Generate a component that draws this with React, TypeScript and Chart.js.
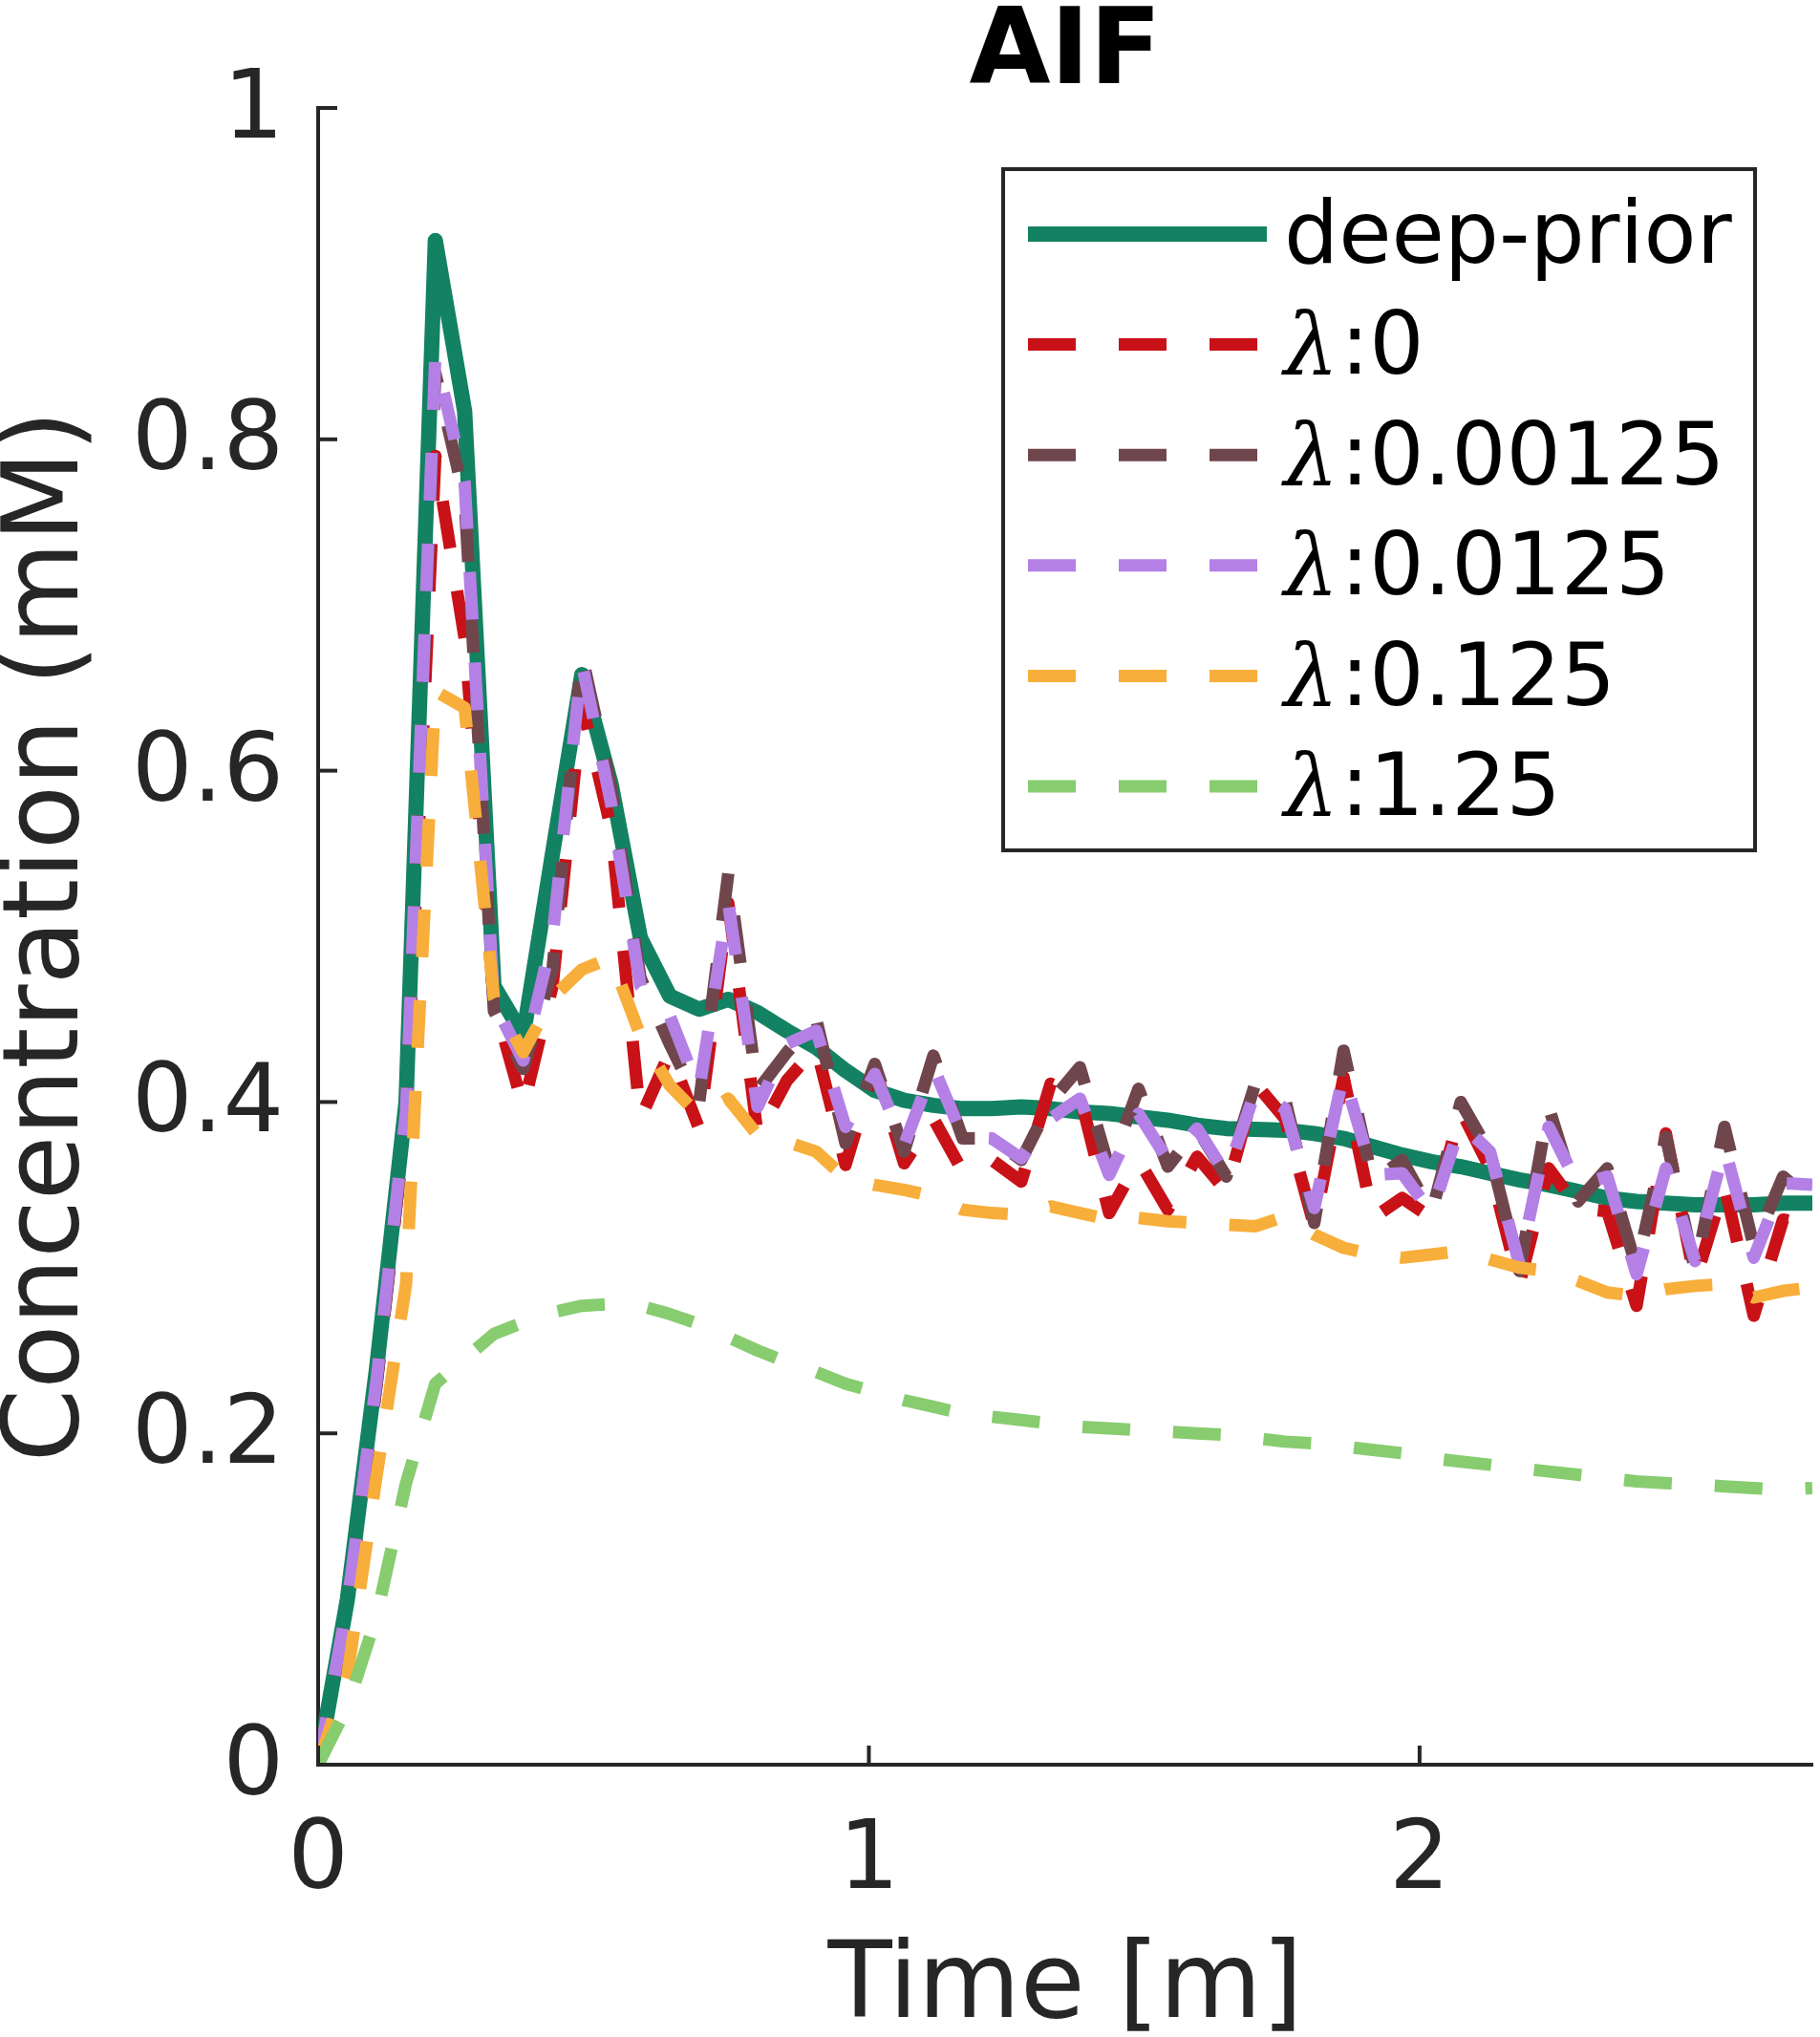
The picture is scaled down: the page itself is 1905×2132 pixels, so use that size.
import React, { useEffect, useRef } from 'react';
import { Chart, registerables } from 'chart.js';

Chart.register(...registerables);

// ---- data (time in minutes, concentration in mM) ----
const timeMin = [
  0, 0.0532, 0.1064, 0.1596, 0.2128, 0.266, 0.3192, 0.3724, 0.4256, 0.4788,
  0.532, 0.5852, 0.6384, 0.6916, 0.7448, 0.798, 0.8512, 0.9044, 0.9576, 1.0108,
  1.064, 1.1172, 1.1704, 1.2236, 1.2768, 1.33, 1.3832, 1.4364, 1.4896, 1.5428,
  1.596, 1.6492, 1.7024, 1.7556, 1.8088, 1.862, 1.9152, 1.9684, 2.0216, 2.0748,
  2.128, 2.1812, 2.2344, 2.2876, 2.3408, 2.394, 2.4472, 2.5004, 2.5536, 2.6068,
  2.66, 2.7132,
];

const deepPrior = [
  0, 0.10, 0.24, 0.40, 0.92, 0.817, 0.47, 0.44, 0.55, 0.658,
  0.592, 0.499, 0.464, 0.456, 0.462, 0.454, 0.443, 0.433, 0.419, 0.407,
  0.401, 0.398, 0.396, 0.396, 0.397, 0.396, 0.394, 0.393, 0.391, 0.389,
  0.386, 0.384, 0.3835, 0.383, 0.381, 0.378, 0.373, 0.368, 0.364, 0.361,
  0.357, 0.353, 0.35, 0.346, 0.342, 0.34, 0.339, 0.338, 0.338, 0.338,
  0.339, 0.339,
];

const lambda0 = [
  0, 0.095, 0.23, 0.39, 0.79, 0.68, 0.46, 0.397, 0.47, 0.64,
  0.565, 0.39, 0.43, 0.384, 0.52, 0.38, 0.413, 0.433, 0.362, 0.421,
  0.363, 0.39, 0.358, 0.365, 0.352, 0.411, 0.404, 0.333, 0.365, 0.335,
  0.367, 0.346, 0.411, 0.39, 0.325, 0.415, 0.33, 0.342, 0.33, 0.395,
  0.36, 0.29, 0.36, 0.336, 0.334, 0.277, 0.381, 0.292, 0.35, 0.271,
  0.329, 0.326,
];

const lambda000125 = [
  0, 0.095, 0.23, 0.39, 0.84, 0.764, 0.455, 0.42, 0.48, 0.67,
  0.59, 0.475, 0.435, 0.399, 0.538, 0.407, 0.43, 0.45, 0.375, 0.423,
  0.37, 0.428, 0.378, 0.378, 0.365, 0.40, 0.421, 0.36, 0.408, 0.361,
  0.384, 0.355, 0.412, 0.402, 0.327, 0.431, 0.352, 0.365, 0.333, 0.40,
  0.369, 0.298, 0.397, 0.34, 0.36, 0.30, 0.379, 0.298, 0.385, 0.313,
  0.355, 0.34,
];

const lambda00125 = [
  0, 0.097, 0.233, 0.394, 0.85, 0.774, 0.46, 0.425, 0.50, 0.665,
  0.58, 0.47, 0.452, 0.407, 0.52, 0.397, 0.435, 0.443, 0.385, 0.417,
  0.374, 0.421, 0.379, 0.378, 0.366, 0.39, 0.402, 0.356, 0.393, 0.365,
  0.384, 0.356, 0.407, 0.396, 0.336, 0.417, 0.356, 0.357, 0.333, 0.387,
  0.37, 0.302, 0.385, 0.35, 0.355, 0.296, 0.36, 0.304, 0.373, 0.306,
  0.351, 0.35,
];

const lambda0125 = [
  0, 0.054, 0.175, 0.29, 0.648, 0.638, 0.463, 0.43, 0.463, 0.48,
  0.487, 0.44, 0.41, 0.392, 0.402, 0.38, 0.376, 0.37, 0.354, 0.35,
  0.347, 0.343, 0.335, 0.333, 0.332, 0.337, 0.333, 0.329, 0.33, 0.328,
  0.327, 0.326, 0.325, 0.331, 0.32, 0.312, 0.308, 0.306, 0.308, 0.31,
  0.305, 0.30, 0.298, 0.292, 0.285, 0.283, 0.287, 0.289, 0.29, 0.282,
  0.286, 0.288,
];

const lambda125 = [
  0, 0.035, 0.09, 0.17, 0.23, 0.245, 0.26, 0.267, 0.273, 0.277,
  0.278, 0.277, 0.272, 0.266, 0.258, 0.25, 0.243, 0.237, 0.23, 0.225,
  0.22, 0.216, 0.212, 0.21, 0.208, 0.206, 0.204, 0.203, 0.202, 0.201,
  0.2, 0.199, 0.197, 0.195, 0.194, 0.192, 0.19, 0.188, 0.185, 0.183,
  0.181, 0.179, 0.177, 0.175, 0.173, 0.171, 0.17, 0.169, 0.168, 0.167,
  0.166, 0.167,
];

const seriesLabels = ['deep-prior', 'λ:0', 'λ:0.00125', 'λ:0.0125', 'λ:0.125', 'λ:1.25'];
const xTickValues = [0, 1, 2];
const yTickValues = [0, 0.2, 0.4, 0.6, 0.8, 1];

// ---- styles ----
const FONT = 'DejaVu Sans';
const AXIS = '#262626';
const COLORS = ['#128262', '#c81218', '#70464d', '#b480e6', '#f8ae3a', '#88cc70'];
const DASH = [50, 45];

const seriesValues = [deepPrior, lambda0, lambda000125, lambda00125, lambda0125, lambda125];

const tickMarksPlugin = {
  id: 'tickMarks',
  afterDraw(chart: any) {
    const { ctx, chartArea, scales } = chart;
    ctx.save();
    ctx.strokeStyle = AXIS;
    ctx.lineWidth = 4;
    ctx.lineCap = 'butt';
    scales.y.ticks.forEach((t: any) => {
      const py = scales.y.getPixelForValue(t.value);
      ctx.beginPath();
      ctx.moveTo(chartArea.left, py);
      ctx.lineTo(chartArea.left + 20, py);
      ctx.stroke();
    });
    scales.x.ticks.forEach((t: any) => {
      const px = scales.x.getPixelForValue(t.value);
      ctx.beginPath();
      ctx.moveTo(px, chartArea.bottom);
      ctx.lineTo(px, chartArea.bottom - 20);
      ctx.stroke();
    });
    ctx.restore();
  },
};

const boxLegendPlugin = {
  id: 'boxLegend',
  afterDraw(chart: any) {
    const { ctx, chartArea } = chart;
    const left = chartArea.left + 717;
    const top = chartArea.top + 64;
    const width = 787;
    const height = 713;
    ctx.save();
    ctx.fillStyle = '#ffffff';
    ctx.fillRect(left, top, width, height);
    ctx.strokeStyle = AXIS;
    ctx.lineWidth = 4;
    ctx.setLineDash([]);
    ctx.strokeRect(left, top, width, height);
    chart.data.datasets.forEach((ds: any, i: number) => {
      const y = top + 68 + i * 115.6;
      ctx.beginPath();
      ctx.strokeStyle = ds.borderColor;
      ctx.lineWidth = ds.borderWidth;
      ctx.lineCap = 'butt';
      ctx.setLineDash(ds.borderDash || []);
      ctx.moveTo(left + 26, y);
      ctx.lineTo(left + 276, y);
      ctx.stroke();
      ctx.setLineDash([]);
      ctx.fillStyle = '#000000';
      ctx.textBaseline = 'middle';
      ctx.textAlign = 'left';
      const label: string = ds.label;
      const ty = y + 7;
      let x = left + 294;
      if (label.startsWith('λ')) {
        ctx.font = `italic 90px "DejaVu Serif"`;
        ctx.fillText('λ', x, ty);
        x += ctx.measureText('λ').width + 2;
        ctx.font = `90px "${FONT}"`;
        ctx.fillText(label.slice(1), x, ty);
      } else {
        ctx.font = `90px "${FONT}"`;
        ctx.fillText(label, x, ty);
      }
    });
    ctx.restore();
  },
};

export default function App() {
  const canvasRef = useRef<HTMLCanvasElement | null>(null);

  useEffect(() => {
    document.body.style.margin = '0';
    const canvas = canvasRef.current;
    if (!canvas) return;

    const datasets = seriesValues.map((vals, i) => ({
      label: seriesLabels[i],
      data: timeMin.map((t, k) => ({ x: t, y: vals[k] })),
      borderColor: COLORS[i],
      backgroundColor: COLORS[i],
      borderWidth: i === 0 ? 16 : 13,
      borderDash: i === 0 ? [] : DASH,
      borderCapStyle: 'butt' as const,
      borderJoinStyle: 'round' as const,
      pointRadius: 0,
      tension: 0,
      fill: false,
      order: 6 - i,
    }));

    const chart = new Chart(canvas, {
      type: 'line',
      data: { datasets },
      plugins: [tickMarksPlugin, boxLegendPlugin],
      options: {
        animation: false,
        responsive: false,
        devicePixelRatio: 1,
        layout: { padding: { left: 0, right: 8, top: 0, bottom: 0 } },
        plugins: {
          legend: { display: false },
          tooltip: { enabled: false },
          title: {
            display: true,
            fullSize: false,
            text: 'AIF',
            color: '#000000',
            font: { family: FONT, size: 110, weight: 'bold', lineHeight: 0.782 },
            padding: { top: 15, bottom: 12 },
          },
        },
        scales: {
          x: {
            type: 'linear',
            min: 0,
            max: timeMin[timeMin.length - 1],
            afterBuildTicks: (scale: any) => {
              scale.ticks = xTickValues.map((v) => ({ value: v }));
            },
            afterFit: (scale: any) => {
              scale.height = 285;
            },
            grid: { display: false, drawTicks: false },
            border: { display: true, color: AXIS, width: 4 },
            ticks: {
              color: AXIS,
              padding: 43,
              maxRotation: 0,
              font: { family: FONT, size: 100 },
              callback: (v: any) => String(v),
            },
            title: {
              display: true,
              text: 'Time [m]',
              color: AXIS,
              font: { family: FONT, size: 110, lineHeight: 0.86 },
              padding: { top: 0, bottom: 2 },
            },
          },
          y: {
            type: 'linear',
            min: 0,
            max: 1,
            afterBuildTicks: (scale: any) => {
              scale.ticks = yTickValues.map((v) => ({ value: v }));
            },
            afterFit: (scale: any) => {
              scale.width = 333;
            },
            grid: { display: false, drawTicks: false },
            border: { display: true, color: AXIS, width: 4 },
            ticks: {
              color: AXIS,
              padding: 36,
              labelOffset: 5,
              font: { family: FONT, size: 100 },
              callback: (v: any) => String(v),
            },
            title: {
              display: true,
              text: 'Concentration (mM)',
              color: AXIS,
              font: { family: FONT, size: 110, lineHeight: 0.96 },
              padding: { top: 0, bottom: 0 },
            },
          },
        },
      },
    });

    return () => {
      chart.destroy();
    };
  }, []);

  return (
    <div style={{ width: 1905, height: 2132, background: '#ffffff' }}>
      <canvas ref={canvasRef} width={1905} height={2132} style={{ width: 1905, height: 2132, display: 'block' }} />
    </div>
  );
}
